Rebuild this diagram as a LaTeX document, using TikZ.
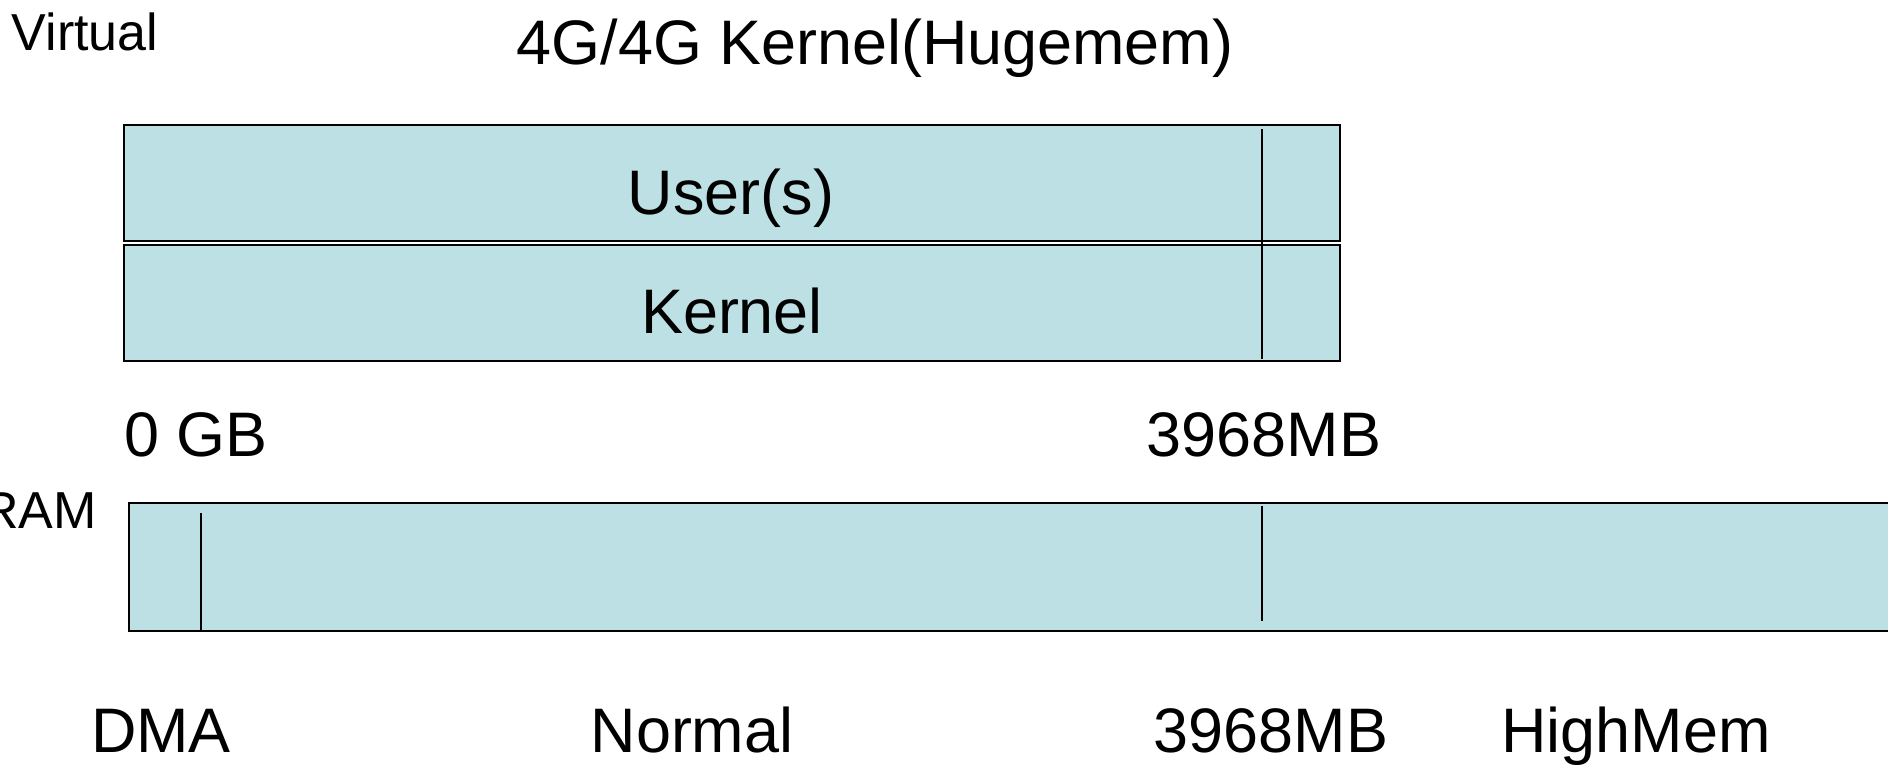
\documentclass[tikz,border=0pt]{standalone}
\usepackage{fontspec}
\setmainfont{Liberation Sans}
\usetikzlibrary{positioning}
\definecolor{memfill}{HTML}{BCE0E3}
\tikzset{membox/.style={draw,fill=memfill,line width=1.1pt,inner sep=0pt},
  divider/.style={line width=1.2pt},
  lbl/.style={inner sep=0pt,anchor=base,font=\fontsize{35.8}{40}\selectfont},
  side/.style={inner sep=0pt,anchor=base,font=\fontsize{29.6}{34}\selectfont}}

\begin{document}
\begin{tikzpicture}[x=0.02cm,y=-0.02cm]
\useasboundingbox (0,0) rectangle (1888,764);
% virtual layout
\node[side] (virt) at (85,50) {Virtual};
\node[lbl] (title) at (875,64) {4G/4G Kernel(Hugemem)};
\node[membox,minimum width=24.32cm,minimum height=2.32cm] (user) at (732,183) {};
\node[membox,minimum width=24.32cm,minimum height=2.32cm] (kern) at (732,303) {};
\node[lbl] (usert) at (731,214) {User(s)};
\node[lbl] (kernt) at (732,333) {Kernel};
\draw[divider] (1262,129) -- (1262,359);
\node[lbl] (zero) at (196,456) {0 GB};
\node[lbl] (top3968) at (1264,456) {3968MB};
% physical ram
\node[side,anchor=base east] (ram) at (97,528) {RAM};
\node[membox,minimum width=35.42cm,minimum height=2.56cm] (phys) at (1014.5,567) {};
\draw[divider] (201,513) -- (201,631);
\draw[divider] (1262,506) -- (1262,621);
\node[lbl] (dma) at (161,752) {DMA};
\node[lbl] (normal) at (692,752) {Normal};
\node[lbl] (low3968) at (1271,752) {3968MB};
\node[lbl] (high) at (1636,752) {HighMem};
\end{tikzpicture}
\end{document}
